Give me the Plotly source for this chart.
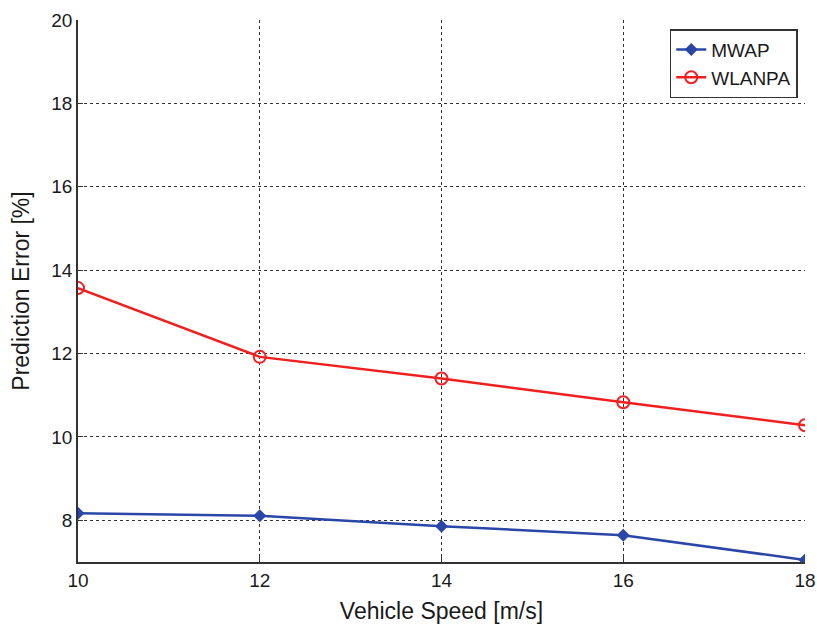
import plotly.graph_objects as go

speed = [10, 12, 14, 16, 18]
mwap = [8.17, 8.11, 7.86, 7.64, 7.05]
wlanpa = [13.57, 11.92, 11.40, 10.83, 10.28]
x_ticks = [10, 12, 14, 16, 18]
y_ticks = [8, 10, 12, 14, 16, 18, 20]

fig = go.Figure()
fig.add_trace(go.Scatter(x=speed, y=mwap, name="MWAP", mode="lines+markers",
                         line=dict(color="#2a47a8", width=2.5),
                         marker=dict(symbol="diamond", size=10, color="#2a47a8")))
fig.add_trace(go.Scatter(x=speed, y=wlanpa, name="WLANPA", mode="lines+markers",
                         line=dict(color="#f02020", width=2.5),
                         marker=dict(symbol="circle-open", size=12, color="#f02020",
                                     line=dict(width=2))))

axis_common = dict(showline=True, linecolor="#333333", linewidth=1.5, mirror=False,
                   showgrid=True, gridcolor="#333333", griddash="dot", gridwidth=1,
                   ticks="inside", ticklen=5, tickcolor="#333333", zeroline=False,
                   automargin=False, ticklabeloverflow="allow",
                   tickfont=dict(size=19, color="#1a1a1a"))
fig.update_xaxes(range=[10, 18], tickvals=x_ticks,
                 title=dict(text="Vehicle Speed [m/s]", font=dict(size=23, color="#1a1a1a")),
                 **axis_common)
fig.update_yaxes(range=[7, 20], tickvals=y_ticks,
                 title=dict(text="Prediction Error [%]", font=dict(size=23, color="#1a1a1a")),
                 **axis_common)

fig.update_layout(
    width=817, height=624,
    margin=dict(l=78, r=12, t=20, b=62),
    plot_bgcolor="white", paper_bgcolor="white",
    font=dict(family="Liberation Sans, Arial, sans-serif", color="#1a1a1a"),
    legend=dict(x=0.99, y=0.983, xanchor="right", yanchor="top",
                bordercolor="#333333", borderwidth=1.5, bgcolor="white",
                font=dict(size=19), tracegroupgap=0),
    showlegend=True,
)
fig.write_html("out.html", config={"displayModeBar": False},
               post_script="document.body.style.margin='0';document.body.style.overflow='hidden';")
